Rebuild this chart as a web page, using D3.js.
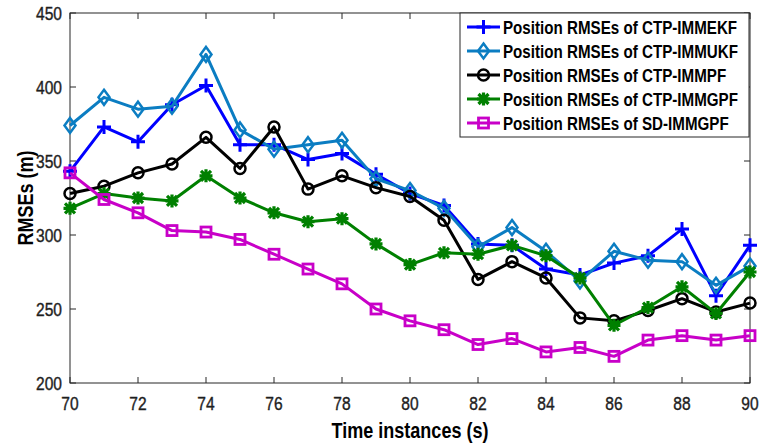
<!DOCTYPE html>
<html>
<head>
<meta charset="utf-8">
<script src="https://cdn.jsdelivr.net/npm/d3@7"></script>
<style>
  body { margin: 0; background: #fff; }
  text { font-family: "Liberation Sans", Arial, sans-serif; }
</style>
</head>
<body>
<div id="chart"></div>
<script>
var times = [70,71,72,73,74,75,76,77,78,79,80,81,82,83,84,85,86,87,88,89,90];

var ekf = [343,373,363,388,401,361,361,351,355,341,328,320,294,293,277,273,281,286,304,259,293];
var ukf = [374,393,385,387,422,371,358,361,364,338,330,318,292,305,289,269,289,283,282,266,279];
var pf  = [328,333,342,348,366,345,373,331,340,332,326,310,270,282,271,244,242,249,257,248,254];
var gpf = [318,328,325,323,340,325,315,309,311,294,280,288,287,293,286,271,239,251,265,247,275];
var sd  = [342,324,315,303,302,297,287,277,267,250,242,236,226,230,221,224,218,229,232,229,232];

var xTicks = [70,72,74,76,78,80,82,84,86,88,90];
var yTicks = [200,250,300,350,400,450];

var series = [
  { name: "Position RMSEs of CTP-IMMEKF", values: ekf, color: "#0000ff", marker: "plus" },
  { name: "Position RMSEs of CTP-IMMUKF", values: ukf, color: "#0b7dc2", marker: "diamond" },
  { name: "Position RMSEs of CTP-IMMPF",  values: pf,  color: "#000000", marker: "circle" },
  { name: "Position RMSEs of CTP-IMMGPF", values: gpf, color: "#008000", marker: "star" },
  { name: "Position RMSEs of SD-IMMGPF",  values: sd,  color: "#c800c8", marker: "square" }
];

var width = 761, height = 446;
var margin = { top: 13, right: 11, bottom: 63, left: 70 };
var w = width - margin.left - margin.right,
    h = height - margin.top - margin.bottom;

var svg = d3.select("#chart").append("svg")
    .attr("width", width)
    .attr("height", height);

var g = svg.append("g")
    .attr("transform", "translate(" + margin.left + "," + margin.top + ")");

var x = d3.scaleLinear().domain([70, 90]).range([0, w]);
var y = d3.scaleLinear().domain([200, 450]).range([h, 0]);

var axisColor = "#262626";
var squish = 0.82;

// the original figure's text is squeezed sideways, so scale x only
function label(parent, tx, ty, str, size, bold, anchor, rot) {
  return parent.append("text")
    .attr("transform", "translate(" + tx + "," + ty + ")" + (rot ? " rotate(" + rot + ")" : "") +
          " scale(" + squish + ",1)")
    .attr("text-anchor", anchor)
    .attr("font-size", size)
    .attr("font-weight", bold ? "bold" : "normal")
    .attr("fill", bold ? "#000" : "#1e1e1e")
    .text(str);
}

// box
g.append("rect")
  .attr("width", w).attr("height", h)
  .attr("fill", "none").attr("stroke", axisColor).attr("stroke-width", 1);

// ticks inward, on all four sides
xTicks.forEach(function(t) {
  g.append("line").attr("x1", x(t)).attr("x2", x(t)).attr("y1", h).attr("y2", h - 6)
    .attr("stroke", axisColor);
  g.append("line").attr("x1", x(t)).attr("x2", x(t)).attr("y1", 0).attr("y2", 6)
    .attr("stroke", axisColor);
  label(g, x(t), h + 27, t, 19, false, "middle")
    .style("stroke", "#1e1e1e").style("stroke-width", 0.4);
});
yTicks.forEach(function(t) {
  g.append("line").attr("x1", 0).attr("x2", 6).attr("y1", y(t)).attr("y2", y(t))
    .attr("stroke", axisColor);
  g.append("line").attr("x1", w).attr("x2", w - 6).attr("y1", y(t)).attr("y2", y(t))
    .attr("stroke", axisColor);
  label(g, -8, y(t) + 7, t, 19, false, "end")
    .style("stroke", "#1e1e1e").style("stroke-width", 0.4);
});

// axis titles
label(svg, margin.left + w / 2, 438, "Time instances (s)", 22, true, "middle");
label(svg, 33, margin.top + h / 2, "RMSEs (m)", 22, true, "middle", -90);

// markers
function drawMarker(sel, type, color, cx, cy) {
  var m = sel.append("g").attr("transform", "translate(" + cx + "," + cy + ")");
  if (type === "plus") {
    m.append("path").attr("d", "M-7,0H7M0,-7V7")
      .attr("stroke", color).attr("stroke-width", 3).attr("fill", "none");
  } else if (type === "diamond") {
    m.append("path").attr("d", "M0,-7.5L5.5,0L0,7.5L-5.5,0Z")
      .attr("stroke", color).attr("stroke-width", 2.5).attr("fill", "none");
  } else if (type === "circle") {
    m.append("circle").attr("r", 5.5)
      .attr("stroke", color).attr("stroke-width", 2.5).attr("fill", "none");
  } else if (type === "star") {
    m.append("path").attr("d", "M-6.5,0H6.5M0,-6.5V6.5M-5,-5L5,5M-5,5L5,-5")
      .attr("stroke", color).attr("stroke-width", 3.2).attr("fill", "none");
  } else if (type === "square") {
    m.append("rect").attr("x", -5).attr("y", -5).attr("width", 10).attr("height", 10)
      .attr("stroke", color).attr("stroke-width", 2.8).attr("fill", "none");
  }
}

var line = d3.line()
  .x(function(d, i) { return x(times[i]); })
  .y(function(d) { return y(d); });

var plot = g.append("g");
series.forEach(function(s) {
  var sg = plot.append("g");
  sg.append("path")
    .datum(s.values)
    .attr("d", line)
    .attr("fill", "none")
    .attr("stroke", s.color)
    .attr("stroke-width", 3)
    .attr("stroke-linejoin", "round");
  s.values.forEach(function(v, i) {
    drawMarker(sg, s.marker, s.color, x(times[i]), y(v));
  });
});

// legend
var lg = svg.append("g");
lg.append("rect")
  .attr("x", 460).attr("y", 13).attr("width", 289).attr("height", 124)
  .attr("fill", "#fff").attr("stroke", axisColor).attr("stroke-width", 1);

series.forEach(function(s, i) {
  var ly = 27 + i * 24;
  lg.append("line").attr("x1", 467).attr("x2", 500).attr("y1", ly).attr("y2", ly)
    .attr("stroke", s.color).attr("stroke-width", 3);
  drawMarker(lg, s.marker, s.color, 483.5, ly);
  label(lg, 503, ly + 6.5, s.name, 18.5, true, "start");
});
</script>
</body>
</html>
